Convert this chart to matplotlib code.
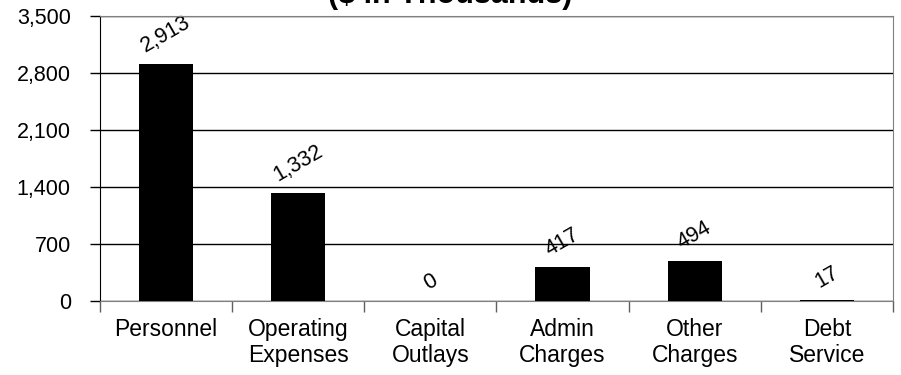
import matplotlib
matplotlib.use("Agg")
import matplotlib.pyplot as plt
from matplotlib.ticker import FuncFormatter, FixedLocator

plt.rcParams['font.family'] = ['Liberation Sans', 'DejaVu Sans']

categories = ["Personnel", "Operating\nExpenses", "Capital\nOutlays", "Admin\nCharges", "Other\nCharges", "Debt\nService"]
values = [2913, 1332, 0, 417, 494, 17]
y_ticks = [0, 700, 1400, 2100, 2800, 3500]
title = "($ in Thousands)"

fig = plt.figure(figsize=(9.01, 3.75), dpi=100)
ax = fig.add_axes([100 / 901, 74 / 375, 793 / 901, 285 / 375])

x = list(range(len(categories)))
ax.bar(x, values, width=0.41, color="black", zorder=3)

ax.set_xlim(-0.5, len(categories) - 0.5)
ax.set_ylim(0, 3500)
ax.set_yticks(y_ticks)
ax.yaxis.set_major_formatter(FuncFormatter(lambda v, p: f"{int(v):,}"))
ax.grid(axis="y", color="black", linewidth=1.0, zorder=1)

# category labels at bar centres, tick marks at category boundaries
ax.set_xticks(x)
ax.set_xticklabels(categories, fontsize=16.5, linespacing=1.2)
ax.tick_params(axis="x", length=0, pad=12)
ax.xaxis.set_minor_locator(FixedLocator([i - 0.5 for i in range(len(categories) + 1)]))
ax.tick_params(axis="x", which="minor", length=8, width=1, color="#606060", direction="out")
ax.tick_params(axis="y", length=7, width=1, labelsize=15.5, direction="out", pad=14)

for side in ("top", "right", "bottom"):
    ax.spines[side].set_color("#808080")
ax.spines["left"].set_color("black")
ax.spines["top"].set_zorder(4)

for xi, v in zip(x, values):
    ax.annotate(f"{v:,}", (xi, v), xytext=(0, 5), textcoords="offset points",
                ha="center", va="bottom", rotation=30, fontsize=15.5,
                rotation_mode="default")

fig.text(0.5, 1.012, title, ha="center", va="center", fontsize=22, fontweight="bold")

fig.savefig("out.png", dpi=100)
